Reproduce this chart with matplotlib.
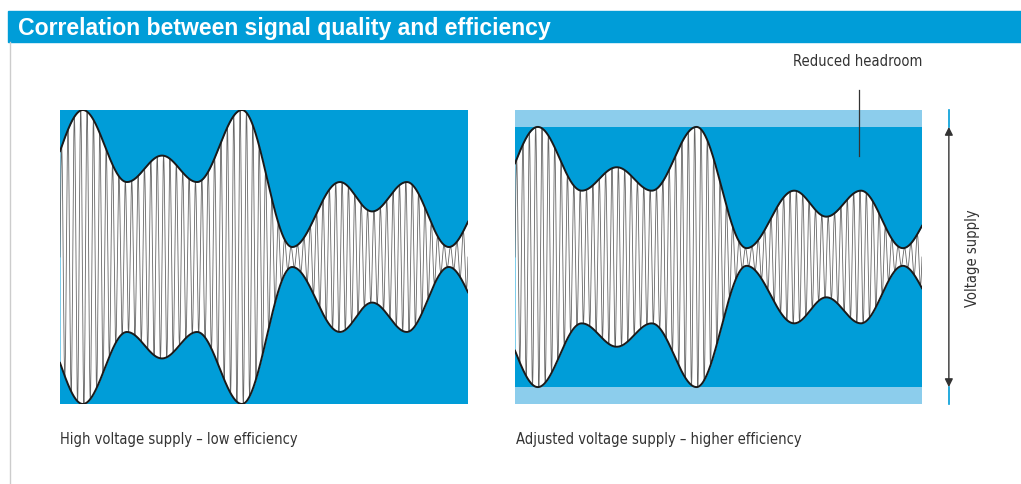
import numpy as np
import matplotlib
matplotlib.use("Agg")
import matplotlib.pyplot as plt
from matplotlib import font_manager
from matplotlib.patches import Rectangle
from matplotlib.lines import Line2D

# envelope key points (position along panel 0..1, amplitude relative to supply)
env_t = [0.0, 0.056, 0.164, 0.25, 0.336, 0.446, 0.569, 0.686, 0.765, 0.850, 0.953, 1.0]
env_amp = [0.72, 1.0, 0.51, 0.69, 0.51, 1.0, 0.068, 0.51, 0.31, 0.51, 0.068, 0.24]
carrier_cycles = 64

headroom = 1.13   # right panel: supply range relative to signal peak

title = "Correlation between signal quality and efficiency"
caption_left = "High voltage supply \u2013 low efficiency"
caption_right = "Adjusted voltage supply \u2013 higher efficiency"
label_headroom = "Reduced headroom"
label_supply = "Voltage supply"

BLUE = "#009dd8"
LIGHT = "#8ccdec"
TEXT = "#333333"

# pick a condensed face for the small labels if one is installed
fonts = font_manager.fontManager.ttflist
if any(f.name == "Liberation Sans Narrow" for f in fonts):
    small = dict(family="Liberation Sans Narrow", fontsize=10.8)
elif any(f.name == "DejaVu Sans" and f.stretch == "condensed" for f in fonts):
    small = dict(family="DejaVu Sans", fontstretch="condensed", fontsize=10.5)
else:
    small = dict(family="Roboto", fontsize=10.3)


def envelope(t):
    out = np.zeros_like(t)
    n = len(env_t)
    for i in range(n - 1):
        m = (t >= env_t[i]) & (t <= env_t[i + 1])
        s = (t[m] - env_t[i]) / (env_t[i + 1] - env_t[i])
        if i == 0:
            w = np.sin(np.pi / 2 * s)
        elif i == n - 2:
            w = 1 - np.cos(np.pi / 2 * s)
        else:
            w = (1 - np.cos(np.pi * s)) / 2
        out[m] = env_amp[i] + (env_amp[i + 1] - env_amp[i]) * w
    return out


def draw_signal(ax):
    t = np.linspace(0, 1, 60000)
    e = envelope(t)
    ax.fill_between(t, -e, e, color="white", lw=0, zorder=2)
    ax.plot(t, e * np.sin(2 * np.pi * carrier_cycles * t), color="#666666", lw=0.6, zorder=3)
    ax.plot(t, e, color="#1a1a1a", lw=1.4, zorder=4)
    ax.plot(t, -e, color="#1a1a1a", lw=1.4, zorder=4)
    ax.set_xlim(0, 1)
    ax.set_xticks([])
    ax.set_yticks([])
    for s in ax.spines.values():
        s.set_visible(False)


W, H = 1021, 485
fig = plt.figure(figsize=(W / 100, H / 100), dpi=100)

# title bar
fig.patches.append(Rectangle((8 / W, (H - 43) / H), 1 - 8 / W, 31 / H,
                             transform=fig.transFigure, color=BLUE, zorder=0))
fig.text(18 / W, (H - 28) / H, title, color="white", fontsize=16.6,
         fontweight="bold", family="Liberation Sans", va="center", ha="left")
fig.add_artist(Line2D([10 / W, 10 / W], [0, (H - 43) / H], color="#cccccc", lw=1))

# left panel
axl = fig.add_axes([60 / W, (H - 405) / H, 408 / W, 294 / H])
axl.set_facecolor(BLUE)
draw_signal(axl)
axl.set_ylim(-1, 1)

# right panel
axr = fig.add_axes([515 / W, (H - 405) / H, 407 / W, 294 / H])
axr.set_facecolor(BLUE)
draw_signal(axr)
axr.set_ylim(-headroom, headroom)
axr.axhspan(1, headroom, color=LIGHT, lw=0, zorder=1)
axr.axhspan(-headroom, -1, color=LIGHT, lw=0, zorder=1)

# voltage supply arrow
xa = 1.066
axr.annotate("", xy=(xa, 1.0), xytext=(xa, -1.0), xycoords="data",
             arrowprops=dict(arrowstyle="<|-|>", color="#333333", lw=1,
                             mutation_scale=12, shrinkA=0, shrinkB=0),
             annotation_clip=False)
axr.plot([xa, xa], [1.0, headroom], color=BLUE, lw=1.2, clip_on=False)
axr.plot([xa, xa], [-headroom, -1.0], color=BLUE, lw=1.2, clip_on=False)
axr.text(1.123, 0, label_supply, rotation=90, va="center", ha="center",
         color=TEXT, clip_on=False, **small)

# headroom label with leader line
xh = (859 - 515) / 407
axr.plot([xh, xh], [0.78, 1.28], color="#333333", lw=0.9, clip_on=False, zorder=5)
axr.text(1.0, 1.51, label_headroom, ha="right", va="center", color=TEXT,
         clip_on=False, **small)

# captions
fig.text(60 / W, (H - 440) / H, caption_left, ha="left", va="center",
         color=TEXT, **small)
fig.text(516 / W, (H - 440) / H, caption_right, ha="left", va="center",
         color=TEXT, **small)

fig.savefig("out.png", dpi=100)
